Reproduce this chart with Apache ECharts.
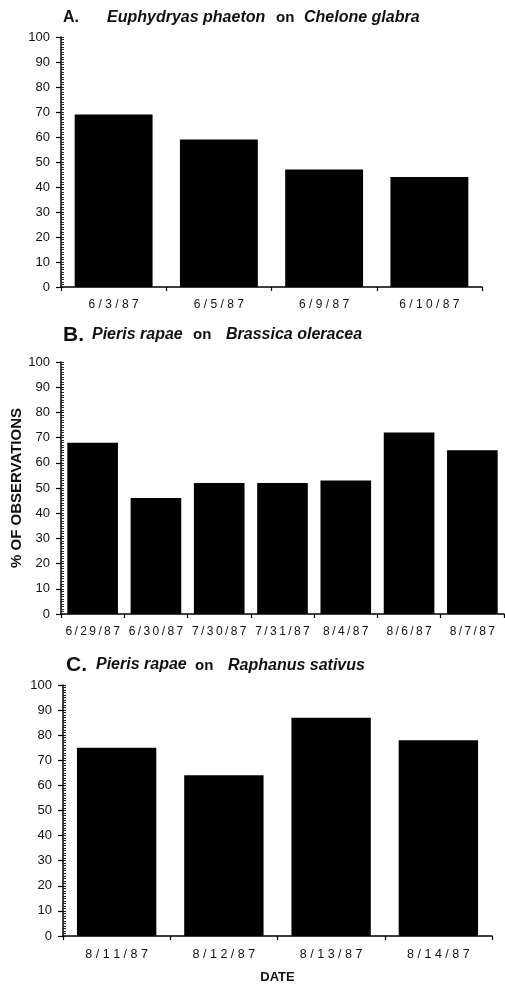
<!DOCTYPE html>
<html><head><meta charset="utf-8">
<script src="https://cdn.jsdelivr.net/npm/echarts@6/dist/echarts.min.js"></script>
<style>html,body{margin:0;padding:0;background:#fff;}#c{width:505px;height:985px;}</style>
</head><body><div id="c"></div>
<script>
var datesA = ['6/3/87','6/5/87','6/9/87','6/10/87'];
var valuesA = [69, 59, 47, 44];
var datesB = ['6/29/87','6/30/87','7/30/87','7/31/87','8/4/87','8/6/87','8/7/87'];
var valuesB = [68, 46, 52, 52, 53, 72, 65];
var datesC = ['8/11/87','8/12/87','8/13/87','8/14/87'];
var valuesC = [75, 64, 87, 78];
var yTicks = [0,10,20,30,40,50,60,70,80,90,100];

var FONT = 'Liberation Sans, Arial, sans-serif';
var chart = echarts.init(document.getElementById('c'), null, {renderer:'canvas'});

function spaced(sep){ return function(v){ return v.split('').join(sep); }; }

var grids = [
  {left:61, top:37, width:421, height:250, containLabel:false, outerBoundsMode:'none'},
  {left:61, top:362, width:443, height:252, containLabel:false, outerBoundsMode:'none'},
  {left:63, top:685, width:429, height:251, containLabel:false, outerBoundsMode:'none'}
];
var cats = [datesA, datesB, datesC];
var vals = [valuesA, valuesB, valuesC];
var gaps = ['26%','20%','26%'];
var seps = [' ', '\u2009', ' '];
var lblSize = [12, 12, 12.5];

var xAxes = [], yAxes = [], series = [];
for (var i=0;i<3;i++){
  xAxes.push({
    type:'category', gridIndex:i, data:cats[i],
    axisLine:{lineStyle:{color:'#000', width:1.5}},
    axisTick:{show:true, length:4, lineStyle:{color:'#000', width:1.2}},
    axisLabel:{color:'#111', fontFamily:FONT, fontSize:lblSize[i], margin:12, interval:0, formatter:spaced(seps[i])},
    name: i===2 ? 'DATE' : '',
    nameLocation:'middle', nameGap:35, nameMoveOverlap:false,
    nameTextStyle:{color:'#111', fontFamily:FONT, fontSize:13, fontWeight:'bold'}
  });
  yAxes.push({
    type:'value', gridIndex:i, position:'left', min:yTicks[0], max:yTicks[yTicks.length-1], interval:10,
    axisLine:{show:true, lineStyle:{color:'#000', width:1.5}},
    axisTick:{show:true, length:5, lineStyle:{color:'#000', width:1.2}},
    axisLabel:{color:'#111', fontFamily:FONT, fontSize:13, margin:11},
    splitLine:{show:false},
    name: i===1 ? '% OF OBSERVATIONS' : '',
    nameLocation:'middle', nameRotate:90, nameGap:37, nameMoveOverlap:false,
    nameTextStyle:{color:'#111', fontFamily:FONT, fontSize:15, fontWeight:'bold'}
  });
  yAxes.push({
    type:'value', gridIndex:i, position:'left', offset:0, min:0, max:100, interval:1,
    axisLine:{show:false},
    axisTick:{show:true, inside:true, length:3, lineStyle:{color:'#222', width:1}},
    axisLabel:{show:false}, splitLine:{show:false}
  });
  series.push({
    type:'bar', xAxisIndex:i, yAxisIndex:i*2, data:vals[i],
    barCategoryGap:gaps[i], itemStyle:{color:'#000'}, silent:true
  });
}

function txt(x, y, s, font){
  return {type:'text', x:x, y:y, silent:true,
    style:{text:s, fill:'#111', font:font, align:'left', verticalAlign:'middle'}};
}
var LBL_A = 'bold 16px ' + FONT, LBL = 'bold 21px ' + FONT;
var SP = 'italic bold 16px ' + FONT, ON = 'bold 15px ' + FONT;
var graphics = [
  txt(63, 18, 'A.', LBL_A), txt(107, 18, 'Euphydryas phaeton', SP), txt(276, 18, 'on', ON), txt(304, 18, 'Chelone glabra', SP),
  txt(63, 335, 'B.', LBL), txt(92, 335, 'Pieris rapae', SP), txt(193, 335, 'on', ON), txt(226, 335, 'Brassica oleracea', SP),
  txt(66, 665, 'C.', LBL), txt(96, 665, 'Pieris rapae', SP), txt(195, 666, 'on', ON), txt(228, 666, 'Raphanus sativus', SP)
];

chart.setOption({
  backgroundColor:'#fff',
  animation:false,
  graphic:graphics,
  grid:grids,
  xAxis:xAxes,
  yAxis:yAxes,
  series:series
});
</script></body></html>
